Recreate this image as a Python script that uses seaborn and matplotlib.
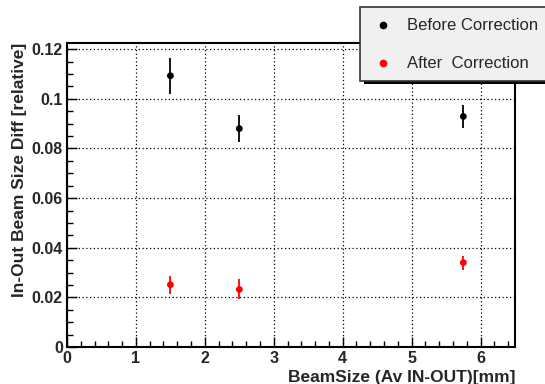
import numpy as np
import pandas as pd
import matplotlib
matplotlib.use("Agg")
import matplotlib.pyplot as plt
import seaborn as sns
from matplotlib.patches import Rectangle
from matplotlib.lines import Line2D
from matplotlib.ticker import MultipleLocator

# ---- data ----
beam_size = [1.5, 2.5, 5.75]
before_vals = [0.1093, 0.0880, 0.0929]
before_errs = [0.0073, 0.0055, 0.0047]
after_vals = [0.0251, 0.0232, 0.0340]
after_errs = [0.0036, 0.0040, 0.0028]
series_labels = ["Before Correction", "After  Correction"]
series_colors = ["black", "red"]

df = pd.DataFrame({
    "x": beam_size * 2,
    "y": before_vals + after_vals,
    "err": before_errs + after_errs,
    "series": [series_labels[0]] * 3 + [series_labels[1]] * 3,
})

sns.set_style("white")
plt.rcParams["font.family"] = ["Liberation Sans", "DejaVu Sans"]

W, H = 545, 384
fig = plt.figure(figsize=(W / 100, H / 100), dpi=100)
ax = fig.add_axes([67 / W, 1 - 347 / H, (515 - 67) / W, (347 - 43) / H])

for lab, col in zip(series_labels, series_colors):
    sub = df[df.series == lab]
    ax.errorbar(sub.x, sub.y, yerr=sub.err, fmt="none", ecolor=col, elinewidth=1.3, capsize=0, zorder=3)
sns.scatterplot(data=df, x="x", y="y", hue="series", palette=dict(zip(series_labels, series_colors)),
                s=24, edgecolor="none", legend=False, ax=ax, zorder=4)

ax.set_xlim(0, 6.5)
ax.set_ylim(0, 0.1225)
ax.xaxis.set_major_locator(MultipleLocator(1))
ax.xaxis.set_minor_locator(MultipleLocator(0.2))
ax.yaxis.set_minor_locator(MultipleLocator(0.005))
ax.set_yticks([0, 0.02, 0.04, 0.06, 0.08, 0.1, 0.12])
ax.set_yticklabels(["0", "0.02", "0.04", "0.06", "0.08", "0.1", "0.12"])
ax.tick_params(which="both", direction="in", top=False, right=False, bottom=True, left=True, color="black")
ax.tick_params(which="major", length=7, width=1, labelsize=11.5, pad=3)
ax.tick_params(which="minor", length=4, width=1)
for t in ax.get_xticklabels() + ax.get_yticklabels():
    t.set_fontweight("bold")
ax.grid(True, which="major", linestyle=(0, (1, 2)), color="black", linewidth=0.9)
for sp in ax.spines.values():
    sp.set_color("black")
    sp.set_linewidth(1.5)

ax.set_xlabel("BeamSize (Av IN-OUT)[mm]", fontsize=12.5, fontweight="bold", loc="right", labelpad=3)
ax.set_ylabel("In-Out Beam Size Diff [relative]", fontsize=12.5, fontweight="bold", loc="top", labelpad=3)

# legend box (ROOT style, partly outside the figure)
def px(x, y):
    return x / W, 1 - y / H

shadow = Rectangle(px(364, 84), 200 / W, 76 / H, transform=fig.transFigure,
                   facecolor="black", edgecolor="none", zorder=5)
box = Rectangle(px(360, 81), 200 / W, 74 / H, transform=fig.transFigure,
                facecolor="#f0f0f0", edgecolor="#333333", linewidth=1.2, zorder=6)
fig.add_artist(shadow)
fig.add_artist(box)
for i, (lab, col) in enumerate(zip(series_labels, series_colors)):
    yy = 25 + i * 38
    fig.add_artist(Line2D([383 / W], [1 - yy / H], marker="o", markersize=4.5, color=col,
                          linestyle="none", transform=fig.transFigure, zorder=7))
    fig.text(407 / W, 1 - yy / H, lab, fontsize=12, va="center", ha="left", zorder=7)

fig.savefig("out.png", dpi=100)
